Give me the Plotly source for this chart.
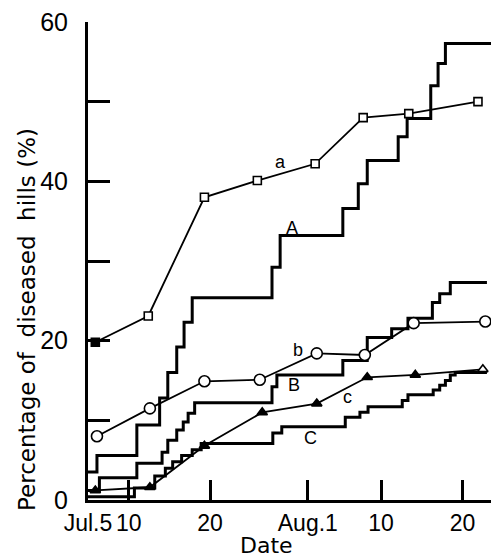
import plotly.graph_objects as go

# x values: days after Jul. 5
tick_days = [0, 5, 15, 27, 36, 46]
tick_text = ["Jul.5", "10", "20", "Aug.1", "10", "20"]
y_ticks = [0, 10, 20, 30, 40, 50, 60]
y_tick_text = ["0", "", "20", "", "40", "", "60"]

# step curves (value after each step)
A_days = [0, 1.1, 6.0, 8.8, 9.8, 10.9, 11.8, 12.8, 22.6, 23.6, 31.3, 33.2, 34.3, 38.1, 39.2, 42.1, 43.0, 43.9, 49.5]
A_vals = [3.5, 5.6, 9.4, 12.8, 16.0, 19.2, 22.3, 25.4, 29.2, 33.2, 36.6, 39.7, 42.6, 45.6, 47.9, 52.0, 54.8, 57.3, 57.3]

B_days = [0, 1.4, 6.0, 9.1, 9.8, 10.9, 11.7, 12.3, 13.1, 22.6, 23.2, 31.3, 34.3, 37.3, 39.3, 42.3, 43.2, 44.5, 49.0]
B_vals = [1.2, 2.8, 4.6, 6.0, 7.5, 8.8, 9.8, 10.9, 12.2, 14.2, 15.7, 17.5, 20.4, 21.5, 22.8, 24.8, 25.9, 27.3, 27.3]

C_days = [0, 5.7, 8.2, 9.5, 10.4, 11.5, 12.8, 13.9, 22.7, 23.8, 31.6, 33.4, 34.4, 38.6, 39.3, 42.4, 43.2, 43.9, 44.5, 45.1, 49.0]
C_vals = [0.4, 1.5, 3.0, 4.0, 4.8, 5.6, 6.3, 7.1, 8.4, 9.2, 10.4, 11.0, 11.7, 12.5, 13.2, 13.8, 14.4, 15.0, 15.7, 16.0, 16.0]

# sampled curves
a_days = [0.9, 7.4, 14.3, 20.8, 27.9, 33.8, 39.4, 47.9]
a_vals = [19.8, 23.1, 38.0, 40.1, 42.2, 48.0, 48.5, 50.0]

b_days = [1.1, 7.6, 14.3, 21.1, 28.1, 34.0, 40.0, 48.8]
b_vals = [8.0, 11.5, 14.9, 15.1, 18.4, 18.2, 22.2, 22.4]

c_days = [0.9, 7.6, 14.3, 21.4, 28.1, 34.3, 40.2, 48.5]
c_vals = [1.2, 1.6, 6.8, 11.0, 12.1, 15.4, 15.7, 16.4]

labels = ["a", "A", "b", "B", "c", "C"]
label_days = [23.7, 25.1, 25.8, 25.3, 31.9, 27.3]
label_vals = [42.4, 34.2, 18.8, 14.4, 12.9, 7.8]

fig = go.Figure()

for xs, ys in [(A_days, A_vals), (B_days, B_vals), (C_days, C_vals)]:
    fig.add_trace(go.Scatter(x=xs, y=ys, mode="lines", line=dict(color="black", width=3, shape="hv"),
                             showlegend=False, hoverinfo="skip"))

fig.add_trace(go.Scatter(x=a_days, y=a_vals, mode="lines+markers",
                         line=dict(color="black", width=1.8),
                         marker=dict(symbol="square", size=8,
                                     color=["black"] + ["white"] * (len(a_days) - 1),
                                     line=dict(color="black", width=1.6)),
                         showlegend=False, cliponaxis=False))
fig.add_trace(go.Scatter(x=b_days, y=b_vals, mode="lines+markers",
                         line=dict(color="black", width=1.8),
                         marker=dict(symbol="circle", size=11, color="white",
                                     line=dict(color="black", width=1.6)),
                         showlegend=False, cliponaxis=False))
fig.add_trace(go.Scatter(x=c_days, y=c_vals, mode="lines+markers",
                         line=dict(color="black", width=1.8),
                         marker=dict(symbol="triangle-up", size=9,
                                     color=["black"] * (len(c_days) - 1) + ["white"],
                                     line=dict(color="black", width=1.6)),
                         showlegend=False, cliponaxis=False))

for t, xd, yv in zip(labels, label_days, label_vals):
    fig.add_annotation(x=xd, y=yv, text=t, showarrow=False,
                       font=dict(family="Arial", size=18, color="black"))

fig.add_annotation(xref="paper", yref="paper", x=-0.151, y=0.377,
                   text="Percentage of  diseased  hills (%)", textangle=-90,
                   showarrow=False, xanchor="center", yanchor="middle",
                   font=dict(family="DejaVu Sans", size=23, color="black"))
fig.add_annotation(xref="paper", yref="paper", x=0.442, y=-0.096,
                   text="Date", showarrow=False, xanchor="center", yanchor="middle",
                   font=dict(family="DejaVu Sans", size=22, color="black"))

fig.update_xaxes(range=[0, 49.5], tickmode="array", tickvals=tick_days, ticktext=tick_text,
                 ticks="inside", ticklen=20, tickwidth=2.5, tickcolor="black",
                 showline=True, linecolor="black", linewidth=3, showgrid=False, zeroline=False,
                 tickfont=dict(family="Arial", size=23, color="black"), ticklabelstandoff=0)
fig.update_yaxes(range=[0, 60], tickmode="array", tickvals=y_ticks, ticktext=y_tick_text,
                 ticks="inside", ticklen=22, tickwidth=2.5, tickcolor="black",
                 showline=True, linecolor="black", linewidth=3, showgrid=False, zeroline=False,
                 tickfont=dict(family="Arial", size=25, color="black"), ticklabelstandoff=12)

fig.update_layout(width=491, height=560, margin=dict(l=88, r=0, t=22, b=60),
                  plot_bgcolor="white", paper_bgcolor="white", showlegend=False)

fig.write_html("out.html", config={"displayModeBar": False},
               post_script="document.body.style.margin='0';")
